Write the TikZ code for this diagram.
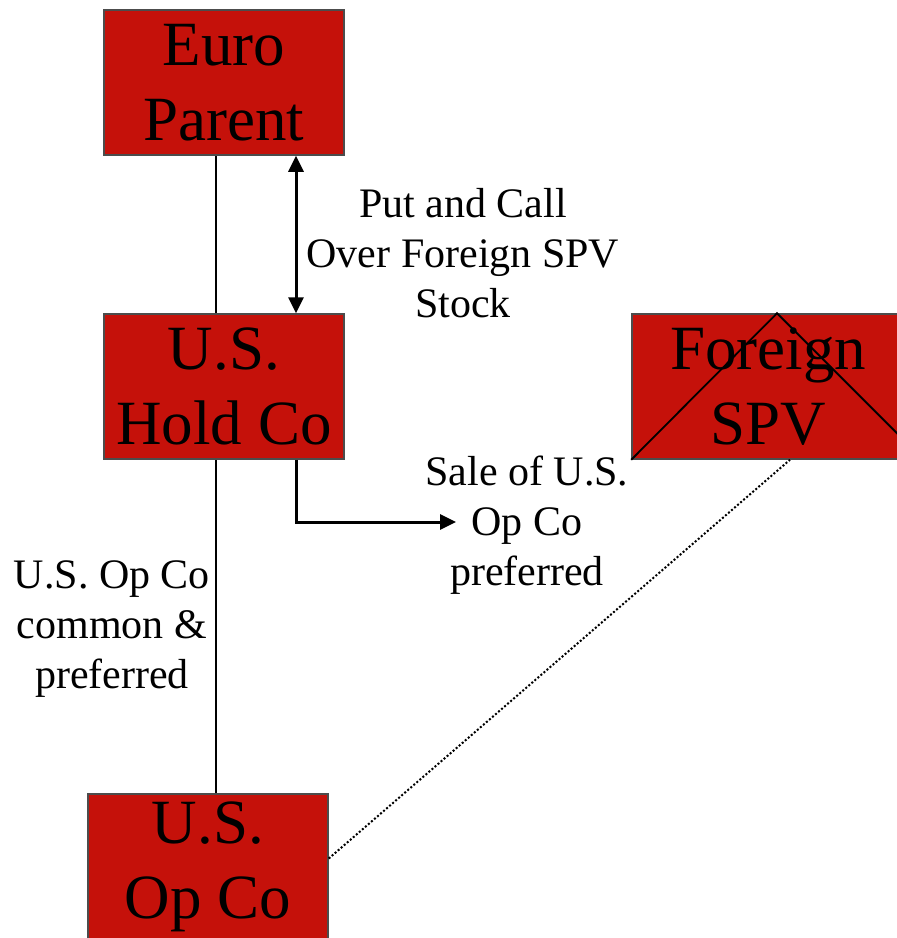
\documentclass[tikz,border=0pt]{standalone}
\usepackage{fontspec}
\setmainfont{Liberation Serif}
\usetikzlibrary{arrows.meta}
\definecolor{boxred}{RGB}{197,17,10}

\begin{document}
\begin{tikzpicture}[
  x=1pt, y=-1pt,
  entity/.style={draw=black!70, fill=boxred, line width=1.5pt, inner sep=0pt,
    minimum width=240pt, minimum height=145pt, align=center,
    font=\fontsize{63}{75}\selectfont},
  note/.style={align=center, font=\fontsize{42}{50}\selectfont},
  link/.style={line width=1.3pt},
  flow/.style={line width=3pt, -{Triangle[length=16pt, width=15pt]}},
  both/.style={line width=3pt, {Triangle[length=16pt, width=15pt]}-{Triangle[length=16pt, width=15pt]}}
]
\clip (0,0) rectangle (897,938);
\fill[white] (0,0) rectangle (897,938);
\draw[link] (216,155) -- (216,794);
\node[entity] (euro) at (224,82.5) {Euro\\Parent};
\node[entity] (hold) at (224,386.5) {U.S.\\Hold Co};
\node[entity, minimum width=272pt] (spv) at (768,386.5) {Foreign\\SPV};
\node[entity] (opco) at (208,866.5) {U.S.\\Op Co};
\draw[link, line width=1.8pt] (spv.south west) -- ([xshift=9pt]spv.north) -- ++(145,145);
\draw[both] ([xshift=72pt]euro.south) -- ([xshift=72pt]hold.north);
\coordinate (saletip) at (456,522);
\draw[flow] ([xshift=72pt]hold.south) |- (saletip);
\draw[dotted, line width=2pt] ([yshift=8pt]opco.east) -- ([xshift=22pt]spv.south);
\node[note] (putcall) at (463,253) {Put and Call\\Over Foreign SPV\\Stock};
\node[note] (sale) at (527,525) {Sale of U.S.\\Op Co\\preferred};
\node[note] (shares) at (112,629) {U.S. Op Co\\common \&\\preferred};
\end{tikzpicture}
\end{document}
